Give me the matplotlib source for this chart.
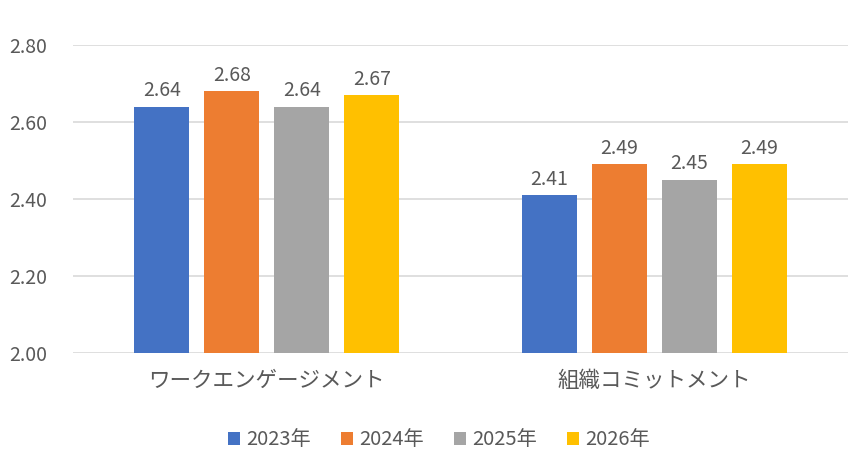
import numpy as np
import matplotlib
matplotlib.use("Agg")
import matplotlib.pyplot as plt

plt.rcParams['font.family'] = ['Noto Sans CJK JP', 'DejaVu Sans']

categories = ['ワークエンゲージメント', '組織コミットメント']
years = ['2023年', '2024年', '2025年', '2026年']
values = [
    [2.64, 2.41],
    [2.68, 2.49],
    [2.64, 2.45],
    [2.67, 2.49],
]
colors = ['#4472c4', '#ed7d31', '#a5a5a5', '#ffc000']
yticks = [2.00, 2.20, 2.40, 2.60, 2.80]

fig = plt.figure(figsize=(8.68, 4.69), dpi=100)
ax = fig.add_axes([0.0841, 0.2473, 0.8929, 0.6567])

x = np.arange(len(categories))
width = 0.142
step = 0.1806
text_col = '#595959'

for i, (yr, vals, c) in enumerate(zip(years, values, colors)):
    pos = x + (i - 1.5) * step
    ax.bar(pos, np.array(vals) - 2.0, width, bottom=2.0, color=c, label=yr, zorder=3)
    for p, v in zip(pos, vals):
        ax.text(p, v + 0.014, f'{v:.2f}', ha='center', va='bottom', fontsize=14, color=text_col)

ax.set_xlim(-0.5, 1.5)
ax.set_ylim(2.0, 2.8)
ax.set_yticks(yticks)
ax.set_yticklabels([f'{t:.2f}' for t in yticks], fontsize=14)
ax.set_xticks(x)
ax.set_xticklabels(categories, fontsize=15.5)
ax.tick_params(axis='both', length=0, colors=text_col)
ax.tick_params(axis='x', pad=12)
ax.tick_params(axis='y', pad=18.5)
ax.yaxis.grid(True, color='#d9d9d9', linewidth=1.2, zorder=0)
ax.set_axisbelow(True)
for s in ax.spines.values():
    s.set_visible(False)

leg = fig.legend(loc='center', bbox_to_anchor=(0.506, 0.062), ncol=4, frameon=False,
                 fontsize=14.5, handlelength=0.6, handleheight=0.6, handletextpad=0.3,
                 columnspacing=1.5)
for t in leg.get_texts():
    t.set_color(text_col)

fig.savefig('out.png', dpi=100)
